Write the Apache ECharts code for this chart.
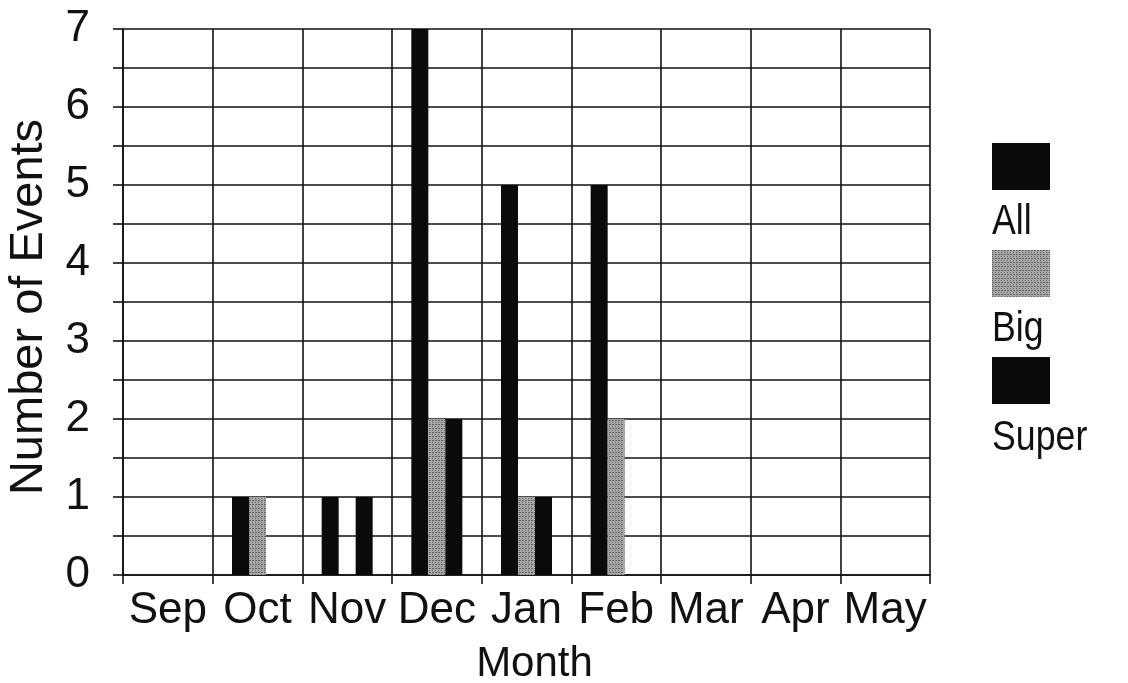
<!DOCTYPE html>
<html>
<head>
<meta charset="utf-8">
<script src="https://cdn.jsdelivr.net/npm/echarts@6/dist/echarts.min.js"></script>
<style>
  html, body { margin: 0; padding: 0; background: #fff; }
  #chart { width: 1128px; height: 683px; }
</style>
</head>
<body>
<div id="chart"></div>
<script>
// Monthly event counts
const months = ['Sep', 'Oct', 'Nov', 'Dec', 'Jan', 'Feb', 'Mar', 'Apr', 'May'];
const allEvents = [0, 1, 1, 7, 5, 5, 0, 0, 0];
const bigEvents = [0, 1, 0, 2, 1, 2, 0, 0, 0];
const superEvents = [0, 0, 1, 2, 1, 0, 0, 0, 0];
const seriesNames = ['All', 'Big', 'Super'];
const yTicks = [0, 1, 2, 3, 4, 5, 6, 7];

const FONT = '"Liberation Sans", Arial, Helvetica, sans-serif';
const INK = '#111';
const gridLine = { color: INK, width: 1.6 };

const chart = echarts.init(document.getElementById('chart'), null, { renderer: 'canvas' });

// fine dotted texture for the "Big" bars
const stipple = {
  symbol: 'rect',
  symbolSize: 1,
  dashArrayX: [[1, 2], [2, 1]],
  dashArrayY: [1, 1],
  color: 'rgba(0,0,0,0.4)'
};

// legend captions sit under their swatches
const legendLabelTop = [201, 308, 417];

chart.setOption({
  animation: false,
  backgroundColor: '#fff',
  textStyle: { fontFamily: FONT, color: INK },
  grid: {
    left: 123, right: 198, top: 29, bottom: 108,
    containLabel: false,
    outerBoundsMode: 'none'
  },
  legend: {
    orient: 'vertical',
    left: 992,
    top: 143,
    padding: 0,
    itemWidth: 58,
    itemHeight: 47,
    itemGap: 60,
    icon: 'rect',
    formatter: () => '',
    textStyle: { fontSize: 1 },
    data: seriesNames
  },
  graphic: seriesNames.map((name, i) => ({
    type: 'text',
    x: 992,
    y: legendLabelTop[i],
    scaleX: 0.85,
    style: { text: name, font: '42px ' + FONT, fill: INK, textVerticalAlign: 'top' }
  })),
  xAxis: {
    type: 'category',
    data: months,
    boundaryGap: true,
    axisLine: { show: true, lineStyle: gridLine },
    axisTick: { show: true, length: 9, interval: 0, lineStyle: gridLine },
    splitLine: { show: true, interval: 0, lineStyle: gridLine },
    axisLabel: { fontSize: 44, color: INK, margin: 14, interval: 0, fontFamily: FONT },
    name: 'Month',
    nameLocation: 'middle',
    nameGap: 68,
    nameTextStyle: { fontSize: 42, color: INK, fontFamily: FONT, padding: [0, 0, 0, 16] }
  },
  yAxis: {
    type: 'value',
    min: yTicks[0],
    max: yTicks[yTicks.length - 1],
    interval: 1,
    axisLine: { show: true, lineStyle: gridLine },
    axisTick: { show: true, length: 10, lineStyle: gridLine },
    minorTick: { show: true, splitNumber: 2, length: 10, lineStyle: gridLine },
    splitLine: { show: true, lineStyle: gridLine },
    minorSplitLine: { show: true, lineStyle: gridLine },
    axisLabel: { fontSize: 44, color: INK, margin: 33, fontFamily: FONT },
    name: 'Number of Events',
    nameLocation: 'middle',
    nameGap: 70,
    nameTextStyle: { fontSize: 47, color: INK, fontFamily: FONT, padding: [0, 10, 0, 0] }
  },
  series: [
    {
      name: seriesNames[0], type: 'bar', data: allEvents,
      barWidth: 17, barGap: '0%',
      itemStyle: { color: '#0a0a0a' }
    },
    {
      name: seriesNames[1], type: 'bar', data: bigEvents,
      barWidth: 17, barGap: '0%',
      itemStyle: { color: '#a8a8a8', decal: stipple }
    },
    {
      name: seriesNames[2], type: 'bar', data: superEvents,
      barWidth: 17, barGap: '0%',
      itemStyle: { color: '#0a0a0a' }
    }
  ]
});
</script>
</body>
</html>
